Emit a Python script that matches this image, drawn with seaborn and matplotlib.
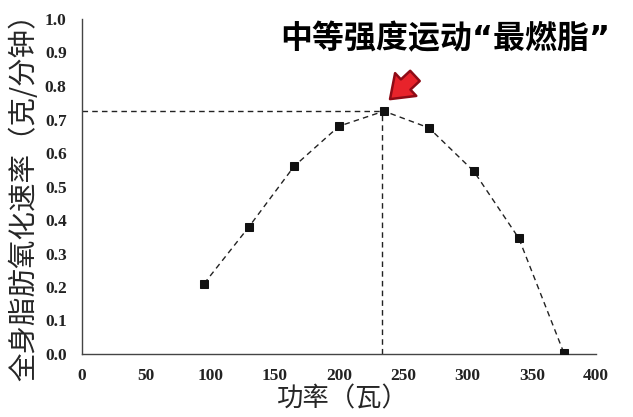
import matplotlib
matplotlib.use("Agg")
import matplotlib.pyplot as plt
import seaborn as sns
import pandas as pd

# data
power = [95, 130, 165, 200, 235, 270, 305, 340, 375]
fat_rate = [0.21, 0.38, 0.56, 0.68, 0.725, 0.675, 0.545, 0.345, 0.003]
peak_power = 235
peak_rate = 0.725
x_ticks = [0, 50, 100, 150, 200, 250, 300, 350, 400]
y_ticks = [0.0, 0.1, 0.2, 0.3, 0.4, 0.5, 0.6, 0.7, 0.8, 0.9, 1.0]

title_text = "中等强度运动“最燃脂”"
x_label = "功率（瓦）"
y_label = "全身脂肪氧化速率（克/分钟）"

df = pd.DataFrame({"power": power, "rate": fat_rate})

sns.set_style("white")
plt.rcParams['font.family'] = ['Noto Sans CJK SC', 'DejaVu Sans']

fig = plt.figure(figsize=(6.33, 4.17), dpi=100)
ax = fig.add_axes([82/633, 1-354/417, (596-82)/633, (354-19)/417])

# reference lines to the peak
ax.plot([0, peak_power], [peak_rate, peak_rate], color='#222222', lw=1, ls=(0, (4, 3)), zorder=1)
ax.plot([peak_power - 1.5, peak_power - 1.5], [0, peak_rate], color='#222222', lw=1, ls=(0, (4, 3)), zorder=1)

sns.lineplot(data=df, x='power', y='rate', ax=ax, color='#222222', lw=1,
             linestyle=(0, (4, 3)), marker='s', markersize=5.5,
             markerfacecolor='#111111', markeredgecolor='#111111', zorder=3)

ax.set_xlim(0, 400)
ax.set_ylim(0, 1.0)
ax.set_xticks(x_ticks)
ax.set_yticks(y_ticks)
ax.set_xticklabels([str(v) for v in x_ticks], family='Liberation Serif', fontweight='bold', fontsize=12.5)
ax.set_yticklabels([f"{v:.1f}" for v in y_ticks], family='Liberation Serif', fontweight='bold', fontsize=12.5)
ax.tick_params(axis='x', direction='in', length=5, width=1, pad=10, colors='#333333', labelcolor='#222222')
ax.tick_params(axis='y', direction='out', length=5, width=1, pad=6, colors='#333333', labelcolor='#222222')

for side in ['top', 'right']:
    ax.spines[side].set_visible(False)
for side in ['left', 'bottom']:
    ax.spines[side].set_color('#444444')
    ax.spines[side].set_linewidth(1)

ax.set_xlabel(x_label, fontsize=19)
ax.set_ylabel(y_label, fontsize=20.5)
ax.xaxis.set_label_coords(0.508, -0.095)
ax.yaxis.set_label_coords(-0.083, 0.49)

ax.text(283, 0.937, title_text, ha='center', va='center', fontsize=23, fontweight='bold',
        color='black', family=['DejaVu Sans', 'Noto Sans CJK SC'])

ax.annotate('', xy=((388-82)/1.285, (354-101)/335), xytext=((417-82)/1.285, (354-74)/335),
            arrowprops=dict(arrowstyle='simple,head_length=0.55,head_width=0.8,tail_width=0.36',
                            mutation_scale=28, facecolor='#e8232b', edgecolor='#8e0b16', lw=1.8))

fig.savefig('out.png', dpi=100)
